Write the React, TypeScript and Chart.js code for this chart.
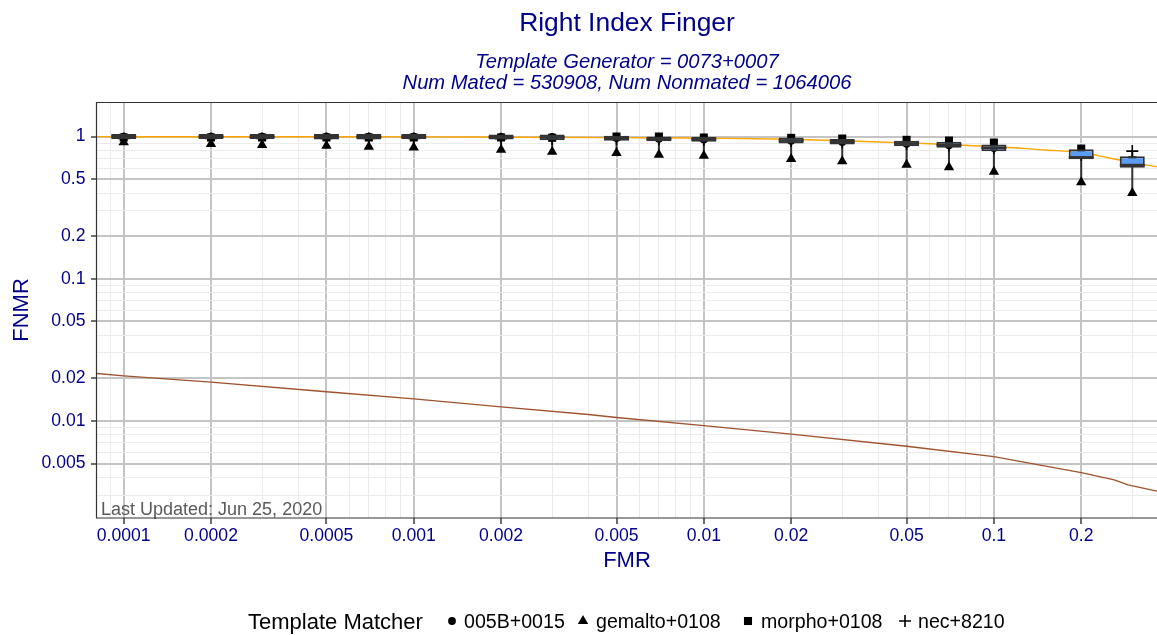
import React, { useEffect, useRef } from 'react';
import { Chart, registerables } from 'chart.js';

Chart.register(...registerables);

const FONT = "'Liberation Sans', Arial, Helvetica, sans-serif";
const NAVY = '#00008B';
const BOX_LINE = '#333333';
const BOX_FILL = '#5b9cf2';
const GRID_MAJOR = '#c4c4c4';
const GRID_MINOR = '#ebebeb';

const TITLE = 'Right Index Finger';
const SUBTITLE = ['Template Generator = 0073+0007', 'Num Mated = 530908, Num Nonmated = 1064006'];
const LAST_UPDATED = 'Last Updated: Jun 25, 2020';
const LEGEND_TITLE = 'Template Matcher';
const MATCHERS = ['005B+0015', 'gemalto+0108', 'morpho+0108', 'nec+8210'];

// FMR operating points (categories)
const fmrLevels = [0.0001, 0.0002, 0.0003, 0.0005, 0.0007, 0.001, 0.002, 0.003, 0.005, 0.007, 0.01, 0.02, 0.03, 0.05, 0.07, 0.1, 0.2, 0.3];

// FNMR of the four highlighted template matchers at each FMR
const series005B = [0.998, 0.998, 0.998, 0.998, 0.997, 0.997, 0.995, 0.993, 0.975, 0.965, 0.955, 0.935, 0.915, 0.89, 0.87, 0.83, 0.74, 0.66];
const seriesGemalto = [0.91, 0.886, 0.871, 0.861, 0.848, 0.839, 0.808, 0.782, 0.765, 0.745, 0.733, 0.695, 0.669, 0.633, 0.607, 0.566, 0.476, 0.4];
const seriesMorpho = [0.985, 0.985, 0.985, 0.985, 0.985, 0.985, 0.985, 0.98, 1.0, 1.0, 0.984, 0.979, 0.968, 0.948, 0.937, 0.907, 0.823, 0.68];
const seriesNec = [0.97, 0.97, 0.97, 0.97, 0.97, 0.97, 0.965, 0.96, 0.965, 0.958, 0.95, 0.93, 0.91, 0.885, 0.865, 0.83, 0.745, 0.79];

// Box summaries (as drawn) at each FMR
const boxBottom = [0.959, 0.959, 0.959, 0.953, 0.953, 0.959, 0.953, 0.943, 0.933, 0.928, 0.918, 0.893, 0.878, 0.856, 0.833, 0.789, 0.693, 0.602];
const boxTop = [1.04, 1.04, 1.04, 1.04, 1.04, 1.04, 1.033, 1.033, 1.011, 1.0, 0.995, 0.984, 0.959, 0.933, 0.918, 0.878, 0.815, 0.728];
const boxMedian = [0.998, 0.998, 0.998, 0.995, 0.995, 0.998, 0.992, 0.987, 0.971, 0.963, 0.956, 0.937, 0.918, 0.893, 0.874, 0.833, 0.714, 0.63];

// Orange reference curve
const orangeFmr = [8.09e-5, 0.0002, 0.0005, 0.001, 0.002, 0.005, 0.01, 0.02, 0.03, 0.05, 0.07, 0.1, 0.15, 0.2, 0.25, 0.3, 0.365];
const orangeFnmr = [0.998, 0.997, 0.996, 0.995, 0.99, 0.983, 0.976, 0.958, 0.933, 0.903, 0.877, 0.85, 0.804, 0.772, 0.707, 0.657, 0.612];

// Brown curve
const brownFmr = [8.09e-5, 0.0001, 0.0002, 0.0005, 0.001, 0.002, 0.004, 0.005, 0.01, 0.02, 0.05, 0.1, 0.2, 0.26, 0.29, 0.365];
const brownFnmr = [0.0215, 0.0207, 0.0187, 0.016, 0.01425, 0.01253, 0.01106, 0.01054, 0.00925, 0.00805, 0.00662, 0.0056, 0.00432, 0.00384, 0.00354, 0.0032];

// Axis ticks
const xMajorTicks = [0.0001, 0.0002, 0.0005, 0.001, 0.002, 0.005, 0.01, 0.02, 0.05, 0.1, 0.2];
const xMajorLabels = ['0.0001', '0.0002', '0.0005', '0.001', '0.002', '0.005', '0.01', '0.02', '0.05', '0.1', '0.2'];
const xMinorTicks = [0.00009, 0.0003, 0.0004, 0.0006, 0.0007, 0.0008, 0.0009, 0.003, 0.004, 0.006, 0.007, 0.008, 0.009, 0.03, 0.04, 0.06, 0.07, 0.08, 0.09, 0.3];
const yMajorTicks = [0.005, 0.01, 0.02, 0.05, 0.1, 0.2, 0.5, 1];
const yMajorLabels = ['0.005', '0.01', '0.02', '0.05', '0.1', '0.2', '0.5', '1'];
const yMinorTicks = [0.003, 0.004, 0.006, 0.007, 0.008, 0.009, 0.03, 0.04, 0.06, 0.07, 0.08, 0.09, 0.3, 0.4, 0.6, 0.7, 0.8, 0.9];

const X_MIN = 8.09e-5;
const X_MAX = 0.365;
const Y_MIN = 0.00207;
const Y_MAX = 1.75;

const R_CIRCLE = 3.9;
const R_TRIANGLE = 6;
const R_SQUARE = 5.7;
const R_PLUS = 6;

const findIdx = (v: number, list: number[]) => list.findIndex((m) => Math.abs(v - m) / m < 1e-6);

const allSeries = [series005B, seriesGemalto, seriesMorpho, seriesNec];
const whiskerRange = fmrLevels.map((_, i) => {
  const vals = allSeries.map((s) => s[i]).filter((v) => v !== null && v !== undefined) as number[];
  return [Math.min(...vals), Math.max(...vals)];
});

const decorPlugin = {
  id: 'decor',
  afterDatasetsDraw(chart: any) {
    const { ctx, chartArea: a } = chart;
    ctx.save();
    ctx.font = `18px ${FONT}`;
    ctx.fillStyle = '#5a5a5a';
    ctx.textAlign = 'left';
    ctx.textBaseline = 'alphabetic';
    ctx.fillText(LAST_UPDATED, a.left + 4, a.bottom - 3);
    ctx.strokeStyle = '#333333';
    ctx.lineWidth = 1.2;
    ctx.beginPath();
    ctx.moveTo(a.right + 2, a.top + 0.5);
    ctx.lineTo(a.left - 0.5, a.top + 0.5);
    ctx.lineTo(a.left - 0.5, a.bottom);
    ctx.lineTo(a.right + 2, a.bottom);
    ctx.stroke();
    ctx.restore();
  },
  afterDraw(chart: any) {
    const { ctx, chartArea: a } = chart;
    const cx = (a.left + a.right) / 2;
    ctx.save();
    ctx.fillStyle = NAVY;
    ctx.textAlign = 'center';
    ctx.textBaseline = 'alphabetic';
    ctx.font = `26.4px ${FONT}`;
    ctx.fillText(TITLE, cx, 31);
    ctx.font = `italic 20.2px ${FONT}`;
    ctx.fillText(SUBTITLE[0], cx, 68);
    ctx.fillText(SUBTITLE[1], cx, 89);

    // legend
    const cy = 621;
    ctx.fillStyle = '#000';
    ctx.strokeStyle = '#000';
    ctx.textAlign = 'left';
    ctx.font = `22px ${FONT}`;
    ctx.fillText(LEGEND_TITLE, 248, cy + 8);
    ctx.font = `19.6px ${FONT}`;
    const keyX = [452, 583, 748, 905];
    const textX = [464, 596, 761, 918];
    // circle
    ctx.beginPath();
    ctx.arc(keyX[0], cy, R_CIRCLE, 0, Math.PI * 2);
    ctx.fill();
    // triangle
    const r = R_TRIANGLE;
    ctx.beginPath();
    ctx.moveTo(keyX[1], cy - r);
    ctx.lineTo(keyX[1] + r * 0.866, cy + r * 0.5);
    ctx.lineTo(keyX[1] - r * 0.866, cy + r * 0.5);
    ctx.closePath();
    ctx.fill();
    // square
    const s = R_SQUARE * Math.SQRT1_2;
    ctx.fillRect(keyX[2] - s, cy - s, 2 * s, 2 * s);
    // plus
    ctx.lineWidth = 1.6;
    ctx.beginPath();
    ctx.moveTo(keyX[3] - R_PLUS, cy);
    ctx.lineTo(keyX[3] + R_PLUS, cy);
    ctx.moveTo(keyX[3], cy - R_PLUS);
    ctx.lineTo(keyX[3], cy + R_PLUS);
    ctx.stroke();
    MATCHERS.forEach((m, i) => ctx.fillText(m, textX[i], cy + 7));
    ctx.restore();
  },
};

export default function App() {
  const canvasRef = useRef<HTMLCanvasElement | null>(null);

  useEffect(() => {
    const canvas = canvasRef.current;
    if (!canvas) return;
    const pts = (s: number[]) => fmrLevels.map((f, i) => ({ x: f, y: s[i] }));
    const pointDs = (label: string, s: number[], style: string, radius: number, order: number, stroke = false) => ({
      type: 'scatter' as const,
      label,
      data: pts(s),
      pointStyle: style,
      pointRadius: radius,
      pointHoverRadius: radius,
      pointBackgroundColor: stroke ? 'rgba(0,0,0,0)' : '#000000',
      pointBorderColor: '#000000',
      pointBorderWidth: stroke ? 1.6 : 0,
      order,
    });

    const xGrid = [...xMajorTicks, ...xMinorTicks].sort((a, b) => a - b);
    const yGrid = [...yMajorTicks, ...yMinorTicks].sort((a, b) => a - b);

    const chart = new Chart(canvas, {
      type: 'scatter',
      data: {
        datasets: [
          {
            type: 'line',
            label: 'brown',
            data: brownFmr.map((f, i) => ({ x: f, y: brownFnmr[i] })),
            borderColor: '#a0522d',
            borderWidth: 1.4,
            pointRadius: 0,
            fill: false,
            tension: 0,
            order: 100,
          },
          {
            type: 'line',
            label: 'orange',
            data: orangeFmr.map((f, i) => ({ x: f, y: orangeFnmr[i] })),
            borderColor: '#ffa500',
            borderWidth: 1.4,
            pointRadius: 0,
            fill: false,
            cubicInterpolationMode: 'monotone',
            order: 99,
          },
          {
            type: 'bar',
            label: 'whiskers',
            data: fmrLevels.map((f, i) => ({ x: f, y: whiskerRange[i] })),
            backgroundColor: BOX_LINE,
            borderWidth: 0,
            grouped: false,
            barThickness: 2,
            maxBarThickness: 2,
            inflateAmount: 0,
            order: 60,
          },
          pointDs(MATCHERS[1], seriesGemalto, 'triangle', R_TRIANGLE, 50),
          pointDs(MATCHERS[2], seriesMorpho, 'rect', R_SQUARE, 49),
          pointDs(MATCHERS[3], seriesNec, 'cross', R_PLUS, 48, true),
          pointDs(MATCHERS[0], series005B, 'circle', R_CIRCLE, 47),
          {
            type: 'bar',
            label: 'boxes',
            data: fmrLevels.map((f, i) => ({ x: f, y: [boxBottom[i], boxTop[i]] })),
            backgroundColor: BOX_FILL,
            borderColor: BOX_LINE,
            borderWidth: 2,
            borderSkipped: false,
            grouped: false,
            barThickness: 25,
            maxBarThickness: 25,
            inflateAmount: 0,
            order: 20,
          },
          {
            type: 'scatter',
            label: 'median',
            data: pts(boxMedian),
            pointStyle: 'line',
            pointRadius: 12.5,
            pointHoverRadius: 12.5,
            pointBorderColor: BOX_LINE,
            pointBorderWidth: 2.5,
            order: 10,
          },
        ] as any,
      },
      options: {
        responsive: false,
        devicePixelRatio: 1,
        animation: false,
        events: [],
        layout: { autoPadding: false, padding: { top: 102, left: 0, right: 0, bottom: 57 } },
        plugins: { legend: { display: false }, tooltip: { enabled: false }, title: { display: false } },
        scales: {
          x: {
            type: 'logarithmic',
            min: X_MIN,
            max: X_MAX,
            bounds: 'data',
            offset: false,
            afterBuildTicks: (axis: any) => {
              axis.ticks = xGrid.map((v) => ({ value: v }));
            },
            afterFit: (axis: any) => {
              axis.height = 60;
            },
            ticks: {
              autoSkip: false,
              maxRotation: 0,
              minRotation: 0,
              padding: 1.5,
              color: NAVY,
              font: { family: FONT, size: 17.6 },
              callback: (v: any) => {
                const i = findIdx(Number(v), xMajorTicks);
                return i >= 0 ? xMajorLabels[i] : '';
              },
            },
            grid: {
              offset: false,
              color: (c: any) => (c.tick && findIdx(c.tick.value, xMajorTicks) >= 0 ? GRID_MAJOR : GRID_MINOR),
              lineWidth: (c: any) => (c.tick && findIdx(c.tick.value, xMajorTicks) >= 0 ? 2 : 1),
              drawTicks: true,
              tickLength: 6,
              tickWidth: 1.4,
              tickColor: (c: any) => (c.tick && findIdx(c.tick.value, xMajorTicks) >= 0 ? '#333333' : 'rgba(0,0,0,0)'),
            },
            border: { display: false },
            title: {
              display: true,
              text: 'FMR',
              color: NAVY,
              font: { family: FONT, size: 22 },
              padding: { top: 0, bottom: 3.8 },
            },
          },
          y: {
            type: 'logarithmic',
            position: 'left',
            min: Y_MIN,
            max: Y_MAX,
            bounds: 'data',
            afterBuildTicks: (axis: any) => {
              axis.ticks = yGrid.map((v) => ({ value: v }));
            },
            afterFit: (axis: any) => {
              axis.width = 97;
            },
            ticks: {
              autoSkip: false,
              padding: 5.5,
              color: NAVY,
              font: { family: FONT, size: 17.6 },
              callback: (v: any) => {
                const i = findIdx(Number(v), yMajorTicks);
                return i >= 0 ? yMajorLabels[i] : '';
              },
            },
            grid: {
              color: (c: any) => (c.tick && findIdx(c.tick.value, yMajorTicks) >= 0 ? GRID_MAJOR : GRID_MINOR),
              lineWidth: (c: any) => (c.tick && findIdx(c.tick.value, yMajorTicks) >= 0 ? 2 : 1),
              drawTicks: true,
              tickLength: 6,
              tickWidth: 1.4,
              tickColor: (c: any) => (c.tick && findIdx(c.tick.value, yMajorTicks) >= 0 ? '#333333' : 'rgba(0,0,0,0)'),
            },
            border: { display: false },
            title: {
              display: true,
              text: 'FNMR',
              color: NAVY,
              font: { family: FONT, size: 22 },
              padding: { top: 8.8, bottom: 0 },
            },
          },
        },
      } as any,
      plugins: [decorPlugin],
    });
    return () => chart.destroy();
  }, []);

  return (
    <canvas
      ref={canvasRef}
      width={1157}
      height={635}
      style={{ position: 'absolute', left: 0, top: 0, width: 1157, height: 635, background: '#ffffff' }}
    />
  );
}
